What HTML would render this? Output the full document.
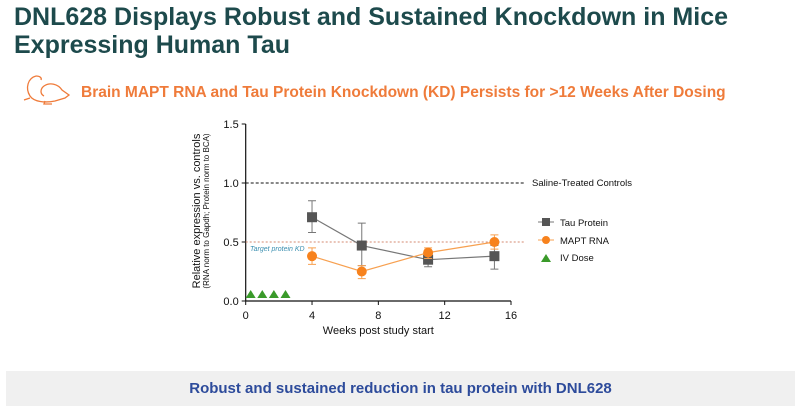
<!DOCTYPE html>
<html><head><meta charset="utf-8"><style>
body{margin:0;width:800px;height:406px;background:#fff;overflow:hidden;position:relative;font-family:"Liberation Sans",sans-serif}
.title{position:absolute;left:14px;top:3px;font-size:25px;font-weight:bold;color:#1d4a4c;line-height:28px}
.sub{position:absolute;left:81px;top:84px;font-size:15.5px;font-weight:bold;color:#ef7b3a}
.band{position:absolute;left:6px;top:371px;width:789px;height:35px;background:#f0f0f0}
.band span{position:absolute;left:0;right:0;top:9px;text-align:center;font-size:15px;font-weight:bold;color:#2d4b9b}
svg{position:absolute;left:0;top:0}
</style></head><body>
<div class="title">DNL628 Displays Robust and Sustained Knockdown in Mice<br>Expressing Human Tau</div>
<svg width="800" height="406"><g fill="none" stroke="#ef7b3a" stroke-width="1.3"><path d="M36 76 C28 78 25 88 30 96 C34 102 45 103 55 101 L65 98 L69 95 L62 90 C58 84 50 82 44 86 C40 89 40 94 44 96"/><path d="M36 76 C40 76 42 78 41 80"/><path d="M45 101 L44 104 L52 104"/><path d="M30 98 L24 100"/></g></svg>
<div class="sub">Brain MAPT RNA and Tau Protein Knockdown (KD) Persists for &gt;12 Weeks After Dosing</div>
<svg id="chart" width="800" height="406"></svg>
<div class="band"><span>Robust and sustained reduction in tau protein with DNL628</span></div>
<script>
const weeks=[4,7,11,15];
const tauMean=[0.71,0.47,0.35,0.38];
const tauLo=[0.58,0.30,0.29,0.27];
const tauHi=[0.85,0.66,0.39,0.47];
const rnaMean=[0.38,0.25,0.41,0.50];
const rnaLo=[0.31,0.19,0.36,0.44];
const rnaHi=[0.45,0.30,0.45,0.56];
const doseWeeks=[0.3,1.0,1.7,2.4];
const xTicks=[0,4,8,12,16];
const yTicks=[0,0.5,1.0,1.5];
const controlLevel=1.0, targetLevel=0.5;
const X=v=>245.7+v*(511-245.7)/16;
const Y=v=>301-v*118;
const svg=document.getElementById('chart');
const NS='http://www.w3.org/2000/svg';
function mk(t,a,name){const e=document.createElementNS(NS,t);for(const k in a)e.setAttribute(k,a[k]);


svg.appendChild(e);return e;}
function txt(x,y,s,name,extra){const e=mk('text',Object.assign({x:x,y:y,'font-family':'Liberation Sans, sans-serif','font-size':11,fill:'#111'},extra||{}),name);e.textContent=s;return e;}
// axes
mk('line',{x1:X(0),y1:Y(0),x2:X(0),y2:Y(1.5),stroke:'#111','stroke-width':1.2},'y-axis');
mk('line',{x1:X(0),y1:Y(0),x2:X(16),y2:Y(0),stroke:'#111','stroke-width':1.2},'x-axis');
yTicks.forEach(t=>{mk('line',{x1:X(0)-4,x2:X(0),y1:Y(t),y2:Y(t),stroke:'#111'},'y-tick');txt(X(0)-7,Y(t)+4,t.toFixed(1),'y-tick-label',{'text-anchor':'end'});});
xTicks.forEach(t=>{mk('line',{x1:X(t),x2:X(t),y1:Y(0),y2:Y(0)+4,stroke:'#111'},'x-tick');txt(X(t),Y(0)+18,String(t),'x-tick-label',{'text-anchor':'middle'});});
txt((X(0)+X(16))/2,Y(0)+33,'Weeks post study start','x-axis-title',{'text-anchor':'middle'});
txt(0,0,'Relative expression vs. controls','y-axis-title',{'text-anchor':'middle',transform:'translate(200,211) rotate(-90)'});
txt(0,0,'(RNA norm to Gapdh; Protein norm to BCA)','y-axis-subtitle',{'text-anchor':'middle','font-size':8,transform:'translate(209,211) rotate(-90)'});
mk('line',{x1:X(0),x2:525,y1:Y(controlLevel),y2:Y(controlLevel),stroke:'#111','stroke-dasharray':'3,2'},'saline-control-line');
txt(532,Y(controlLevel)+3,'Saline-Treated Controls','control-label',{'font-size':9.5});
mk('line',{x1:X(0),x2:525,y1:Y(targetLevel),y2:Y(targetLevel),stroke:'#d48a70','stroke-dasharray':'2,2'},'target-kd-line');
txt(250,Y(targetLevel)+9,'Target protein KD','target-kd-label',{'font-size':7,'font-style':'italic',fill:'#3b8fb0'});
function series(m,lo,hi,col,lineCol,kind,nm){
 mk('polyline',{points:weeks.map((w,i)=>X(w)+','+Y(m[i])).join(' '),fill:'none',stroke:lineCol,'stroke-width':1.2},nm+'-line');
 weeks.forEach((w,i)=>{mk('path',{d:`M${X(w)} ${Y(lo[i])}V${Y(hi[i])}M${X(w)-4} ${Y(lo[i])}h8M${X(w)-4} ${Y(hi[i])}h8`,stroke:lineCol,fill:'none'},nm+'-error-bar');
 if(kind==='sq')mk('rect',{x:X(w)-5,y:Y(m[i])-5,width:10,height:10,fill:col},nm+'-point');
 else mk('circle',{cx:X(w),cy:Y(m[i]),r:5,fill:col},nm+'-point');});
}
series(tauMean,tauLo,tauHi,'#555','#777','sq','tau-protein');
series(rnaMean,rnaLo,rnaHi,'#f7821d','#f7a050','c','mapt-rna');
doseWeeks.forEach(w=>mk('path',{d:`M${X(w)-5} ${Y(0)-3}L${X(w)} ${Y(0)-11}L${X(w)+5} ${Y(0)-3}Z`,fill:'#3a9a2a'},'iv-dose-marker'));
// legend
mk('line',{x1:538,x2:554,y1:222,y2:222,stroke:'#777'},'legend-tau-line');mk('rect',{x:542,y:218,width:8,height:8,fill:'#555'},'legend-tau-marker');
txt(560,226,'Tau Protein','legend-tau-label',{'font-size':9.5});
mk('line',{x1:538,x2:554,y1:240,y2:240,stroke:'#f7a050'},'legend-rna-line');mk('circle',{cx:546,cy:240,r:4,fill:'#f7821d'},'legend-rna-marker');
txt(560,244,'MAPT RNA','legend-rna-label',{'font-size':9.5});
mk('path',{d:'M541 262L546 254L551 262Z',fill:'#3a9a2a'},'legend-dose-marker');
txt(560,261,'IV Dose','legend-dose-label',{'font-size':9.5});
</script>
</body></html>
